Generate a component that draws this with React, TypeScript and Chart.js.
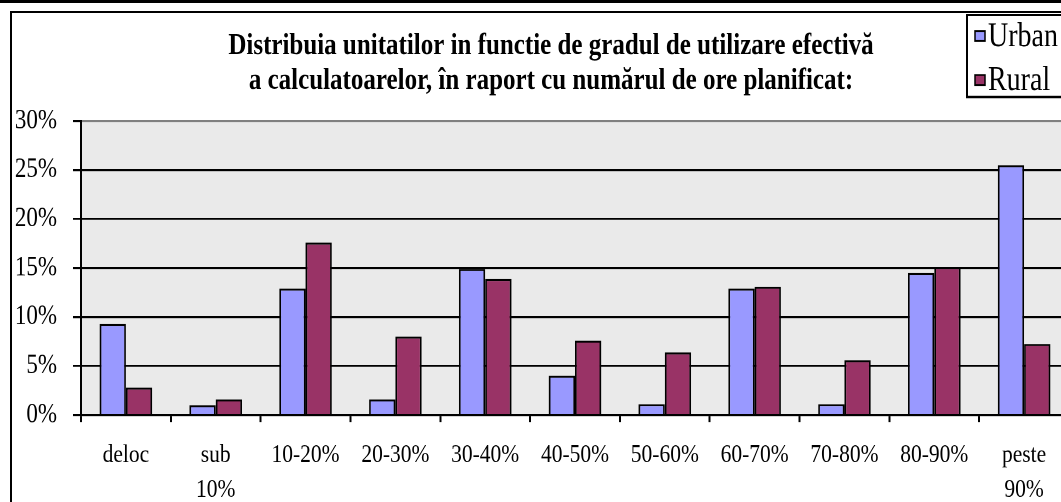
import React, { useEffect, useRef } from "react";
import { Chart, registerables } from "chart.js";

Chart.register(...registerables);

const categories: (string | string[])[] = [
  "deloc",
  ["sub", "10%"],
  "10-20%",
  "20-30%",
  "30-40%",
  "40-50%",
  "50-60%",
  "60-70%",
  "70-80%",
  "80-90%",
  ["peste", "90%"],
];
const urbanValues = [9.3, 1.0, 12.9, 1.6, 14.9, 4.0, 1.1, 12.9, 1.1, 14.5, 25.5];
const ruralValues = [2.8, 1.6, 17.6, 8.0, 13.9, 7.6, 6.4, 13.1, 5.6, 15.1, 7.25];
const seriesNames = ["Urban", "Rural"];
const seriesColors = ["#9999FF", "#993366"];
const titleLines = [
  "Distribuia unitatilor in functie de gradul de utilizare efectivă",
  "a calculatoarelor, în raport cu numărul de ore planificat:",
];
const yMax = 30;
const yStep = 5;

const FONT = '"Liberation Serif", "Times New Roman", serif';
// the reference picture is slightly stretched vertically
const S = 1.2;
const CW = 1100;
const CH = 434;

const decorPlugin = {
  id: "decor",
  beforeDraw(chart: any) {
    const ctx = chart.ctx;
    const a = chart.chartArea;
    ctx.save();
    ctx.fillStyle = "#EAEAEA";
    ctx.fillRect(a.left, a.top, a.right - a.left, a.bottom - a.top);
    ctx.restore();
  },
  afterDraw(chart: any) {
    const ctx = chart.ctx;
    const W = chart.width;
    const H = chart.height;
    ctx.save();
    ctx.fillStyle = "#000";
    ctx.fillRect(0, 0, W, 3 / S);
    ctx.strokeStyle = "#000";
    ctx.lineWidth = 2;
    ctx.strokeRect(11, 12 / S, W + 20, H + 20);
    ctx.fillStyle = "#000";
    ctx.font = `bold 25px ${FONT}`;
    ctx.textAlign = "center";
    ctx.textBaseline = "middle";
    ctx.fillText(titleLines[0], 551, 46 / S);
    ctx.fillText(titleLines[1], 551, 81 / S);
    ctx.lineWidth = 2;
    ctx.strokeRect(967, 15 / S, 200, 82 / S);
    ctx.font = `28px ${FONT}`;
    ctx.textAlign = "left";
    seriesNames.forEach((name, i) => {
      const cy = (36 + i * 44) / S;
      const h = 10 / S;
      ctx.fillStyle = seriesColors[i];
      ctx.fillRect(975, cy - h / 2, 10, h);
      ctx.lineWidth = 1.5;
      ctx.strokeStyle = "#000";
      ctx.strokeRect(975, cy - h / 2, 10, h);
      ctx.fillStyle = "#000";
      ctx.fillText(name, 988, cy + 1);
    });
    ctx.restore();
  },
};

export default function App() {
  const ref = useRef<HTMLCanvasElement | null>(null);

  useEffect(() => {
    if (!ref.current) return;
    const plotTop = 121 / S;
    const plotBottom = 415 / S;
    const xTick = 7 / S;
    const lineH = 35 / S;
    const xPad = 455 / S - plotBottom - xTick - lineH / 2;
    const chart = new Chart(ref.current, {
      type: "bar",
      data: {
        labels: categories,
        datasets: [
          {
            label: seriesNames[0],
            data: urbanValues,
            backgroundColor: seriesColors[0],
            borderColor: "#000",
            borderWidth: 1.75,
            categoryPercentage: 0.585,
            barPercentage: 1,
          },
          {
            label: seriesNames[1],
            data: ruralValues,
            backgroundColor: seriesColors[1],
            borderColor: "#000",
            borderWidth: 1.75,
            categoryPercentage: 0.585,
            barPercentage: 1,
          },
        ],
      },
      options: {
        responsive: false,
        animation: false,
        devicePixelRatio: 2,
        layout: { padding: { left: 0, top: plotTop, right: 31, bottom: 0 } },
        plugins: {
          legend: { display: false },
          title: { display: false },
          tooltip: { enabled: false },
        },
        scales: {
          x: {
            afterFit: (s: any) => {
              s.height = CH - plotBottom;
            },
            grid: {
              offset: true,
              drawOnChartArea: false,
              drawTicks: true,
              tickLength: xTick,
              color: "#000",
              lineWidth: 2,
            },
            border: { display: true, color: "#000", width: 2 / S },
            ticks: {
              color: "#000",
              font: { family: FONT, size: 21.5, lineHeight: `${lineH}px` },
              padding: xPad,
              autoSkip: false,
              maxRotation: 0,
              minRotation: 0,
            },
          },
          y: {
            min: 0,
            max: yMax,
            afterFit: (s: any) => {
              s.width = 81;
            },
            grid: {
              color: (c: any) => (c.tick && c.tick.value === yMax ? "#808080" : "#000"),
              tickColor: "#000",
              lineWidth: 2 / S,
              tickLength: 8,
            },
            border: { display: true, color: "#000", width: 2 },
            ticks: {
              stepSize: yStep,
              color: "#000",
              padding: 16,
              font: { family: FONT, size: 23 },
              callback: (v: any) => `${v}%`,
            },
          },
        },
      },
      plugins: [decorPlugin],
    });
    return () => chart.destroy();
  }, []);

  return (
    <div
      style={{
        position: "fixed",
        left: 0,
        top: 0,
        width: 1061,
        height: 502,
        overflow: "hidden",
        background: "#fff",
      }}
    >
      <div style={{ transform: `scaleY(${S})`, transformOrigin: "0 0", width: CW, height: CH }}>
        <canvas ref={ref} width={CW} height={CH} style={{ display: "block" }} />
      </div>
    </div>
  );
}
